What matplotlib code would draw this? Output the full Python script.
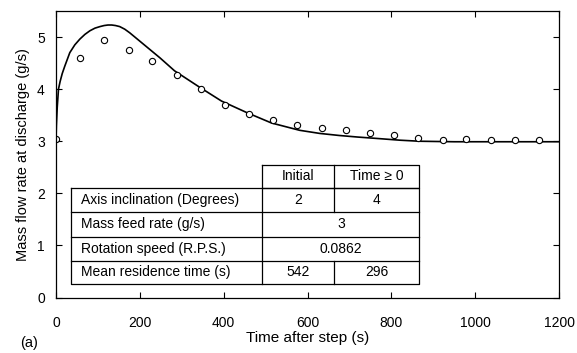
import matplotlib.pyplot as plt
import numpy as np

plt.rcParams['font.family'] = ['Liberation Sans', 'DejaVu Sans']

# measured points (open circles)
t_meas = [0, 58, 115, 173, 230, 288, 346, 403, 461, 518, 576, 634, 691, 749,
          806, 864, 922, 979, 1037, 1094, 1152]
y_meas = [3.05, 4.60, 4.94, 4.76, 4.54, 4.27, 4.01, 3.69, 3.53, 3.40, 3.32,
          3.26, 3.21, 3.15, 3.12, 3.07, 3.03, 3.05, 3.03, 3.03, 3.03]

# model curve
t_model = [0, 1, 3, 6, 10, 15, 21, 33, 45, 57, 69, 81, 93, 105, 115, 124, 133,
           142, 152, 164, 176, 188, 200, 224, 248, 283, 340, 395, 455, 514, 581,
           629, 676, 720, 771, 820, 867, 950, 1200]
y_model = [3.0, 3.3, 3.65, 4.0, 4.15, 4.3, 4.44, 4.70, 4.85, 4.96, 5.05, 5.12,
           5.17, 5.20, 5.22, 5.23, 5.23, 5.22, 5.20, 5.15, 5.08, 5.00, 4.92, 4.76,
           4.60, 4.35, 4.05, 3.77, 3.55, 3.35, 3.21, 3.15, 3.11, 3.08, 3.05,
           3.02, 3.00, 2.99, 2.99]

# table contents
row_labels = ['Axis inclination (Degrees)', 'Mass feed rate (g/s)',
              'Rotation speed (R.P.S.)', 'Mean residence time (s)']
col_headers = ['Initial', 'Time \u2265 0']
initial_vals = ['2', None, None, '542']
after_vals = ['4', None, None, '296']
shared_vals = [None, '3', '0.0862', None]

fig = plt.figure(figsize=(5.77, 3.53), dpi=100)
ax = fig.add_axes([0.097, 0.157, 0.872, 0.812])

ax.plot(t_model, y_model, color='black', lw=1.2)
ax.plot(t_meas, y_meas, 'o', mfc='white', mec='black', ms=4.5, mew=0.8)

ax.set_xlim(0, 1200)
ax.set_ylim(0, 5.5)
ax.set_xticks(np.arange(0, 1201, 200))
ax.set_yticks(np.arange(0, 6, 1))
ax.tick_params(direction='in', top=True, right=True, length=4, width=0.8,
               labelsize=10)
ax.tick_params(axis='x', pad=13)
ax.tick_params(axis='y', pad=8)
for s in ax.spines.values():
    s.set_linewidth(0.9)

ax.set_xlabel('Time after step (s)', fontsize=11, labelpad=1)
ax.set_ylabel('Mass flow rate at discharge (g/s)', fontsize=10.5, labelpad=5)
fig.text(0.05, 0.028, '(a)', fontsize=10.5, ha='center', va='center')

# table drawn in data coordinates
xb = [37, 492, 664, 867]
yb = [2.55, 2.10, 1.64, 1.17, 0.71, 0.26]
lk = dict(color='black', lw=0.9)
# header box
ax.plot([xb[1], xb[3], xb[3], xb[1], xb[1]], [yb[0], yb[0], yb[1], yb[1], yb[0]], **lk)
ax.plot([xb[2], xb[2]], [yb[0], yb[1]], **lk)
# body
ax.plot([xb[0], xb[3], xb[3], xb[0], xb[0]], [yb[1], yb[1], yb[5], yb[5], yb[1]], **lk)
for y in yb[2:5]:
    ax.plot([xb[0], xb[3]], [y, y], **lk)
ax.plot([xb[1], xb[1]], [yb[1], yb[5]], **lk)
ax.plot([xb[2], xb[2]], [yb[1], yb[2]], **lk)
ax.plot([xb[2], xb[2]], [yb[4], yb[5]], **lk)

fs = 10
ax.text((xb[1] + xb[2]) / 2, (yb[0] + yb[1]) / 2, col_headers[0], ha='center', va='center', fontsize=fs)
ax.text((xb[2] + xb[3]) / 2, (yb[0] + yb[1]) / 2, col_headers[1], ha='center', va='center', fontsize=fs)
for i, lab in enumerate(row_labels):
    yc = (yb[i + 1] + yb[i + 2]) / 2
    ax.text(xb[0] + 22, yc, lab, ha='left', va='center', fontsize=fs)
    if initial_vals[i] is not None:
        ax.text((xb[1] + xb[2]) / 2, yc, initial_vals[i], ha='center', va='center', fontsize=fs)
        ax.text((xb[2] + xb[3]) / 2, yc, after_vals[i], ha='center', va='center', fontsize=fs)
    else:
        ax.text((xb[1] + xb[3]) / 2, yc, shared_vals[i], ha='center', va='center', fontsize=fs)

fig.savefig('out.png', dpi=100)
